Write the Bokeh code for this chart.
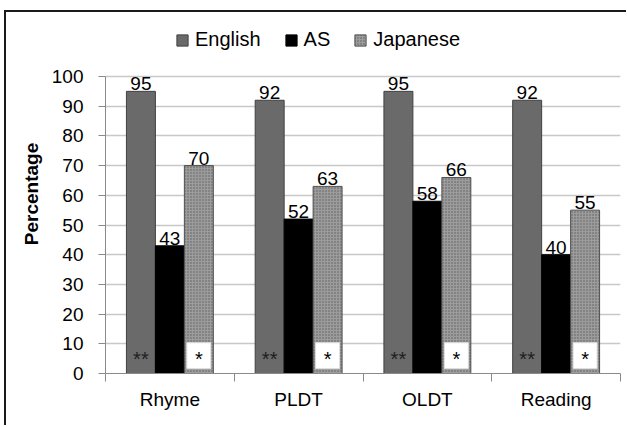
from bokeh.plotting import figure
from bokeh.models import (ColumnDataSource, LabelSet, Legend, LegendItem,
                          FixedTicker, Range1d)
from bokeh.core.properties import value
from bokeh.embed import file_html
from bokeh.resources import INLINE

categories = ["Rhyme", "PLDT", "OLDT", "Reading"]
english = [95, 92, 95, 92]
as_vals = [43, 52, 58, 40]
japanese = [70, 63, 66, 55]
series_names = ["English", "AS", "Japanese"]
y_ticks = [0, 10, 20, 30, 40, 50, 60, 70, 80, 90, 100]
english_mark = "**"
japanese_mark = "*"
mark_y = 6  # vertical position of significance marks (percentage units)

FONT = "Liberation Sans"
n = len(categories)
centers = [i + 0.5 for i in range(n)]
bw = 0.225

# layout: axis 0..100 spans 297px; frame extends 62px above 100 to hold legend
px_per_unit = 297 / 100
y_top = 100 + 62 / px_per_unit

p = figure(width=622, height=415, output_backend="svg", toolbar_location=None,
           x_range=Range1d(0, n), y_range=Range1d(0, y_top),
           min_border_left=99, min_border_right=8, min_border_bottom=54,
           min_border_top=2)
p.styles = {"border-left": "2px solid #1a1a1a", "border-top": "2px solid #1a1a1a",
            "margin-left": "4px", "margin-top": "10px"}
p.outline_line_color = None
p.background_fill_color = "white"

src = ColumnDataSource(dict(
    xe=[c - bw for c in centers], xa=centers, xj=[c + bw for c in centers],
    e=english, a=as_vals, j=japanese,
    es=[str(v) for v in english], as_=[str(v) for v in as_vals],
    js=[str(v) for v in japanese],
    ym=[mark_y] * n, em=[english_mark] * n, jm=[japanese_mark] * n,
))

r_e = p.vbar(x="xe", top="e", width=bw, source=src, fill_color="#6a6a6a",
             line_color="#404040", line_width=1)
r_a = p.vbar(x="xa", top="a", width=bw, source=src, fill_color="black",
             line_color="black", line_width=1)
r_j = p.vbar(x="xj", top="j", width=bw, source=src, fill_color="#9c9c9c",
             line_color="#505050", line_width=1,
             hatch_pattern="dot", hatch_color="#5c5c5c", hatch_scale=3,
             hatch_weight=1)

# white boxes on Japanese bars
p.rect(x="xj", y="ym", width=0.186, height=8.7, source=src,
       fill_color="white", line_color="#e0e0e0")

for col, xcol in (("es", "xe"), ("as_", "xa"), ("js", "xj")):
    top = {"es": "e", "as_": "a", "js": "j"}[col]
    p.add_layout(LabelSet(x=xcol, y=top, text=col, source=src,
                          text_align="center", text_baseline="alphabetic",
                          y_offset=1, text_font=value(FONT),
                          text_font_size="19px", text_color="black"))

p.add_layout(LabelSet(x="xe", y="ym", text="em", source=src,
                      text_align="center", text_baseline="middle",
                      y_offset=-3, text_font=value(FONT), text_font_size="20px",
                      text_color="#1e1e1e"))
p.add_layout(LabelSet(x="xj", y="ym", text="jm", source=src,
                      text_align="center", text_baseline="middle",
                      y_offset=-3, text_font=value(FONT), text_font_size="20px",
                      text_color="black"))

# grid
p.xgrid.grid_line_color = None
p.ygrid.grid_line_color = "#c8c8c8"
p.ygrid.grid_line_width = 1.5
p.ygrid.ticker = FixedTicker(ticks=y_ticks)

# y axis
p.yaxis.ticker = FixedTicker(ticks=y_ticks)
p.yaxis.bounds = (y_ticks[0], y_ticks[-1])
p.yaxis.axis_line_color = "#8a8a8a"
p.yaxis.major_tick_line_color = "#8a8a8a"
p.yaxis.major_tick_out = 7
p.yaxis.major_tick_in = 0
p.yaxis.minor_tick_line_color = None
p.yaxis.major_label_standoff = 15
p.yaxis.major_label_text_font = FONT
p.yaxis.major_label_text_font_size = "19px"
p.yaxis.major_label_text_color = "black"
p.yaxis.axis_label = "Percentage"
p.yaxis.axis_label_text_font = FONT
p.yaxis.axis_label_text_font_size = "19px"
p.yaxis.axis_label_text_font_style = "bold"
p.yaxis.axis_label_text_color = "black"
p.yaxis.axis_label_standoff = 7

# x axis
p.xaxis.ticker = FixedTicker(ticks=centers, minor_ticks=list(range(n + 1)))
p.xaxis.major_label_overrides = {c: cat for c, cat in zip(centers, categories)}
p.xaxis.axis_line_color = "#8a8a8a"
p.xaxis.major_tick_line_color = None
p.xaxis.minor_tick_line_color = "#8a8a8a"
p.xaxis.minor_tick_out = 8
p.xaxis.minor_tick_in = 0
p.xaxis.major_label_standoff = 7
p.xaxis.major_label_text_font = FONT
p.xaxis.major_label_text_font_size = "19px"
p.xaxis.major_label_text_color = "black"

legend = Legend(items=[LegendItem(label=series_names[0], renderers=[r_e]),
                       LegendItem(label=series_names[1], renderers=[r_a]),
                       LegendItem(label=series_names[2], renderers=[r_j])],
                orientation="horizontal", location=(70, 322),
                border_line_color=None, background_fill_alpha=0,
                label_text_font=FONT, label_text_font_size="20px",
                label_text_color="black",
                glyph_width=14, glyph_height=14, label_standoff=6,
                spacing=23, padding=8, margin=0)
p.add_layout(legend, "center")

open("out.html", "w").write(file_html(p, INLINE))
